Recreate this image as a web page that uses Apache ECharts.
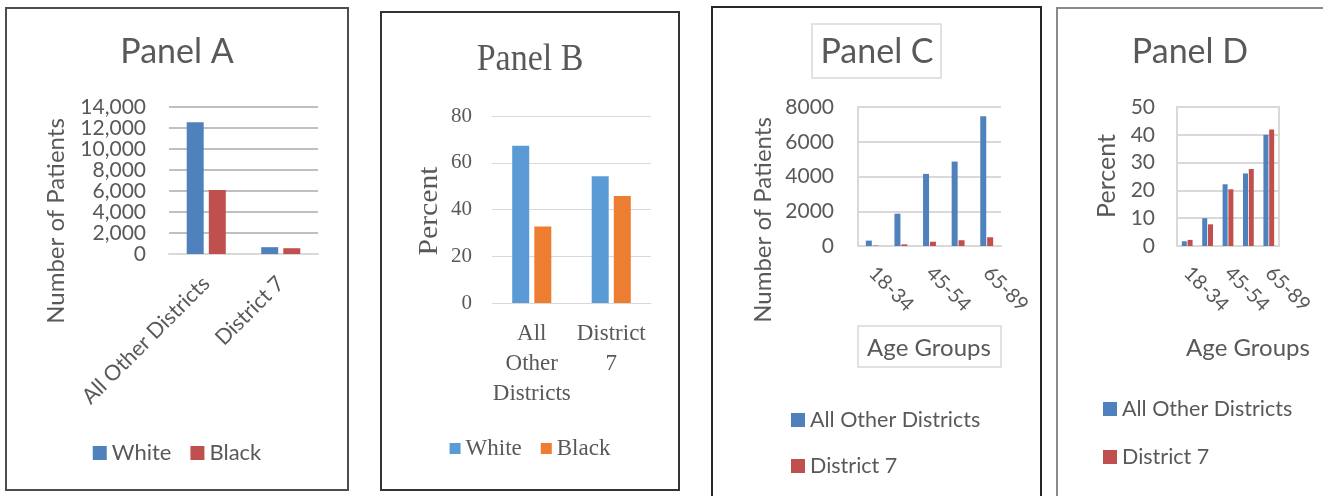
<!DOCTYPE html>
<html>
<head>
<meta charset="utf-8">
<script src="https://cdn.jsdelivr.net/npm/echarts@6/dist/echarts.min.js"></script>
<style>
  html, body { margin: 0; padding: 0; background: #fff; width: 1323px; height: 496px; overflow: hidden; position: relative; }
  .panel { position: absolute; box-sizing: border-box; background: #fff; }
</style>
</head>
<body>
<div id="panelA" class="panel" style="left:5px;top:7px;width:344px;height:484px;border:2px solid #4d4d4d"></div>
<div id="panelB" class="panel" style="left:380px;top:11px;width:300px;height:480px;border:2px solid #333"></div>
<div id="panelC" class="panel" style="left:711px;top:6px;width:331px;height:500px;border:2px solid #262626"></div>
<div id="panelD" class="panel" style="left:1056px;top:7px;width:280px;height:500px;border:2px solid #8a8a8a"></div>
<script>
// Patients by race: all other districts vs. District 7
const districts = ['All Other Districts', 'District 7'];
const districtsWrapped = ['All\nOther\nDistricts', 'District\n7'];
const raceNames = ['White', 'Black'];
const patientsWhite = [12550, 650];
const patientsBlack = [6100, 550];
const percentWhite = [67.3, 54.2];
const percentBlack = [32.7, 45.8];

// Age distribution of patients
const ageGroups = ['18-34', '35-44', '45-54', '55-64', '65-89'];
const groupNames = ['All Other Districts', 'District 7'];
const ageCountOther = [310, 1860, 4150, 4860, 7470];
const ageCountD7 = [26, 94, 245, 332, 503];
const agePctOther = [1.7, 10.0, 22.2, 26.1, 40.0];
const agePctD7 = [2.2, 7.8, 20.4, 27.7, 41.9];

// Value-axis tick labels
const ticksA = [0, 2000, 4000, 6000, 8000, 10000, 12000, 14000];
const ticksB = [0, 20, 40, 60, 80];
const ticksC = [0, 2000, 4000, 6000, 8000];
const ticksD = [0, 10, 20, 30, 40, 50];

const SANS = 'Lato, "Open Sans", sans-serif';
const SERIF = '"Liberation Serif", "DejaVu Serif", serif';
const GREY = '#595959';

function range(ticks) {
  return { min: ticks[0], max: ticks[ticks.length - 1], interval: ticks[1] - ticks[0] };
}

function centeredTitle(text, x, y, size, family) {
  return {
    text, left: x, top: y, padding: 0,
    textAlign: 'center', textVerticalAlign: 'middle',
    textStyle: { fontFamily: family, fontSize: size, fontWeight: 'normal', color: GREY }
  };
}

function label(text, x, y, size, family, extra) {
  return Object.assign({
    type: 'text', x, y,
    style: { text, fill: GREY, font: size + 'px ' + family, align: 'center', verticalAlign: 'middle' }
  }, extra || {});
}

function sideName(text, x, y, size, family, stretch) {
  return label(text, x, y, size, family, { rotation: Math.PI / 2, scaleX: stretch || 1 });
}

function barSeries(name, data, color, width, gap) {
  return { type: 'bar', name, data, barWidth: width, barGap: gap, itemStyle: { color }, emphasis: { disabled: true } };
}

// Panel A: number of patients by race
echarts.init(document.getElementById('panelA'), null, { renderer: 'canvas' }).setOption({
  animation: false,
  title: centeredTitle('Panel A', 170, 43, 34, SANS),
  graphic: [sideName('Number of Patients', 49, 212, 24, SANS)],
  grid: { left: 162, top: 98, width: 149, height: 147 },
  legend: {
    data: raceNames, left: 'center', top: 428, icon: 'rect', itemWidth: 14, itemHeight: 14, itemGap: 19,
    textStyle: { fontFamily: SANS, fontSize: 22, color: GREY }
  },
  xAxis: {
    type: 'category', data: districts,
    axisLine: { lineStyle: { color: '#d9d9d9', width: 2 } }, axisTick: { show: false },
    axisLabel: { rotate: 45, interval: 0, margin: 26, fontFamily: SANS, fontSize: 21.5, color: GREY }
  },
  yAxis: Object.assign({
    type: 'value',
    axisLine: { show: false }, axisTick: { show: false },
    splitLine: { lineStyle: { color: '#c0c0c0', width: 2 } },
    axisLabel: { margin: 23, fontFamily: SANS, fontSize: 21, color: GREY, formatter: v => v.toLocaleString('en-US') }
  }, range(ticksA)),
  series: [
    barSeries(raceNames[0], patientsWhite, '#4f81bd', 17, '30%'),
    barSeries(raceNames[1], patientsBlack, '#c0504d', 17, '30%')
  ]
});

// Panel B: percent of patients by race
echarts.init(document.getElementById('panelB'), null, { renderer: 'canvas' }).setOption({
  animation: false,
  graphic: [
    label('Panel B', 148, 47, 34, SERIF, { scaleY: 1.12 }),
    sideName('Percent', 48, 198, 27, SERIF, 1.1)
  ],
  grid: { left: 110, top: 103, width: 159, height: 187 },
  legend: {
    data: raceNames, left: 'center', top: 419, icon: 'rect', itemWidth: 11, itemHeight: 11, itemGap: 19,
    textStyle: { fontFamily: SERIF, fontSize: 23, color: GREY }
  },
  xAxis: {
    type: 'category', data: districtsWrapped,
    axisLine: { lineStyle: { color: '#d9d9d9', width: 1 } }, axisTick: { show: false },
    axisLabel: { interval: 0, margin: 16, fontFamily: SERIF, fontSize: 23, lineHeight: 30, color: GREY }
  },
  yAxis: Object.assign({
    type: 'value',
    axisLine: { show: false }, axisTick: { show: false },
    splitLine: { lineStyle: { color: '#d9d9d9', width: 1 } },
    axisLabel: { margin: 20, fontFamily: SERIF, fontSize: 21, color: GREY }
  }, range(ticksB)),
  series: [
    barSeries(raceNames[0], percentWhite, '#5b9bd5', 17, '30%'),
    barSeries(raceNames[1], percentBlack, '#ed7d31', 17, '30%')
  ]
});

// Panel C: number of patients by age group
echarts.init(document.getElementById('panelC'), null, { renderer: 'canvas' }).setOption({
  animation: false,
  title: centeredTitle('Panel C', 164, 44, 34, SANS),
  graphic: [
    { type: 'rect', shape: { x: 99, y: 16, width: 129, height: 54 }, style: { fill: 'none', stroke: '#d9d9d9', lineWidth: 1.5 } },
    { type: 'rect', shape: { x: 145, y: 318, width: 143, height: 41 }, style: { fill: 'none', stroke: '#d9d9d9', lineWidth: 1.5 } },
    label('Age Groups', 216, 340, 24, SANS),
    sideName('Number of Patients', 50, 212, 24, SANS)
  ],
  grid: { left: 145, top: 99, width: 143, height: 139 },
  legend: {
    data: groupNames, orient: 'vertical', left: 73, top: 396, icon: 'rect', itemWidth: 14, itemHeight: 14, itemGap: 24,
    textStyle: { fontFamily: SANS, fontSize: 21.5, color: GREY }
  },
  xAxis: {
    type: 'category', data: ageGroups,
    axisLine: { lineStyle: { color: '#d9d9d9', width: 2 } }, axisTick: { show: false },
    axisLabel: { rotate: -45, interval: 1, margin: 24, fontFamily: SANS, fontSize: 20, color: GREY }
  },
  yAxis: Object.assign({
    type: 'value',
    axisLine: { show: true, lineStyle: { color: '#d9d9d9', width: 2 } }, axisTick: { show: false },
    splitLine: { lineStyle: { color: '#d9d9d9', width: 2 } },
    axisLabel: { margin: 24, fontFamily: SANS, fontSize: 21, color: GREY, formatter: v => String(v) }
  }, range(ticksC)),
  series: [
    barSeries(groupNames[0], ageCountOther, '#4f81bd', 6, '15%'),
    barSeries(groupNames[1], ageCountD7, '#c0504d', 6, '15%')
  ]
});

// Panel D: percent of patients by age group
echarts.init(document.getElementById('panelD'), null, { renderer: 'canvas' }).setOption({
  animation: false,
  title: centeredTitle('Panel D', 132, 43, 34, SANS),
  graphic: [
    label('Age Groups', 190, 339, 24, SANS),
    sideName('Percent', 49, 167, 25, SANS)
  ],
  grid: { left: 119, top: 98, width: 102, height: 139, show: true, borderColor: '#d9d9d9', borderWidth: 2 },
  legend: {
    data: groupNames, orient: 'vertical', left: 40, top: 384, icon: 'rect', itemWidth: 14, itemHeight: 14, itemGap: 26,
    textStyle: { fontFamily: SANS, fontSize: 21.5, color: GREY }
  },
  xAxis: {
    type: 'category', data: ageGroups,
    axisLine: { lineStyle: { color: '#d9d9d9', width: 2 } }, axisTick: { show: false },
    axisLabel: { rotate: -45, interval: 1, margin: 24, fontFamily: SANS, fontSize: 20, color: GREY }
  },
  yAxis: Object.assign({
    type: 'value',
    axisLine: { show: false }, axisTick: { show: false },
    splitLine: { lineStyle: { color: '#d9d9d9', width: 2 } },
    axisLabel: { margin: 22, fontFamily: SANS, fontSize: 21, color: GREY }
  }, range(ticksD)),
  series: [
    barSeries(groupNames[0], agePctOther, '#4f81bd', 5, '15%'),
    barSeries(groupNames[1], agePctD7, '#c0504d', 5, '15%')
  ]
});
</script>
</body>
</html>
